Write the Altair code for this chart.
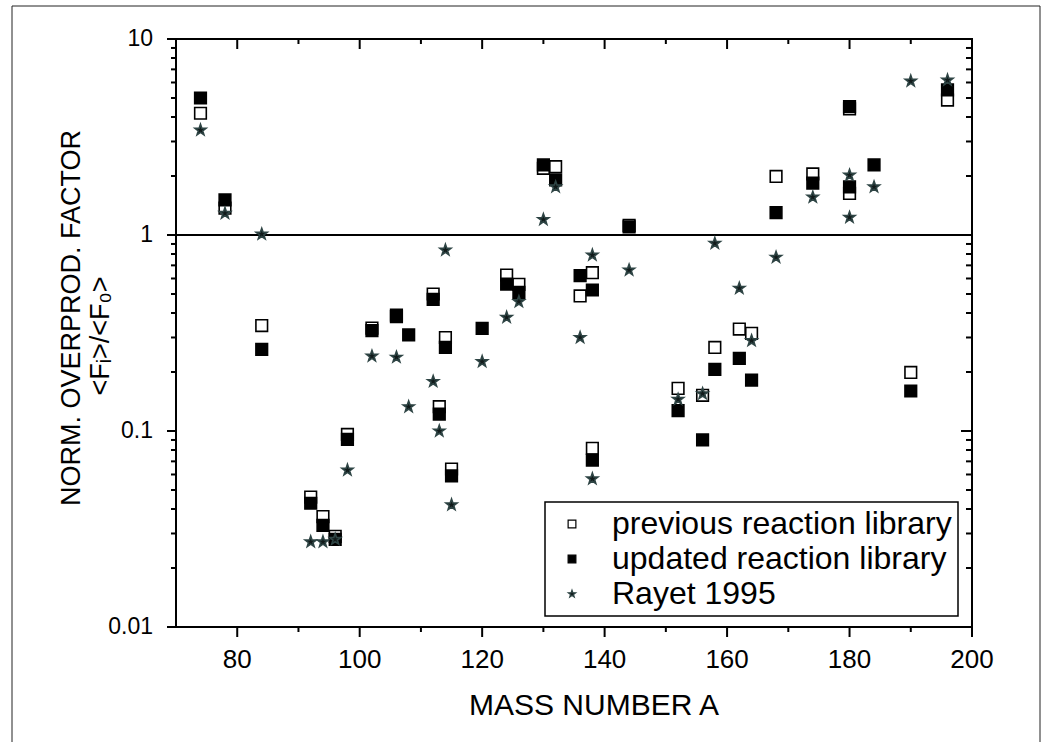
import altair as alt
import pandas as pd

# ---- data ----
series_names = ["previous reaction library", "updated reaction library", "Rayet 1995"]

prev_A = [74, 78, 84, 92, 94, 96, 98, 102, 106, 112, 113, 114, 115, 124, 126, 130, 132, 136, 138, 138,
          144, 152, 156, 158, 162, 164, 168, 174, 180, 180, 190, 196]
prev_F = [4.18, 1.37, 0.345, 0.046, 0.0366, 0.029, 0.096, 0.335, 0.39, 0.50, 0.133, 0.30, 0.064, 0.625,
          0.56, 2.19, 2.23, 0.489, 0.642, 0.0816, 1.12, 0.165, 0.152, 0.267, 0.331, 0.315, 1.99, 2.05,
          4.4, 1.63, 0.199, 4.88]

upd_A = [74, 78, 84, 92, 94, 96, 98, 102, 106, 108, 112, 113, 114, 115, 120, 124, 126, 130, 132, 136,
         138, 138, 144, 152, 156, 158, 162, 164, 168, 174, 180, 180, 184, 190, 196]
upd_F = [5.0, 1.51, 0.261, 0.0428, 0.033, 0.028, 0.0907, 0.325, 0.383, 0.309, 0.47, 0.122, 0.267,
         0.059, 0.334, 0.562, 0.51, 2.28, 1.91, 0.62, 0.524, 0.0711, 1.10, 0.127, 0.09, 0.206, 0.235,
         0.182, 1.30, 1.84, 4.52, 1.76, 2.28, 0.16, 5.5]

ray_A = [74, 78, 84, 92, 94, 96, 98, 102, 106, 108, 112, 113, 114, 115, 120, 124, 126, 130, 132, 136,
         138, 138, 144, 152, 156, 158, 162, 164, 168, 174, 180, 180, 184, 190, 196]
ray_F = [3.43, 1.29, 1.01, 0.0272, 0.0272, 0.028, 0.0632, 0.241, 0.238, 0.133, 0.179, 0.10, 0.838,
         0.042, 0.226, 0.38, 0.457, 1.20, 1.76, 0.30, 0.79, 0.057, 0.663, 0.145, 0.155, 0.907, 0.535,
         0.289, 0.77, 1.56, 2.02, 1.23, 1.76, 6.1, 6.17]

x_major = [80, 100, 120, 140, 160, 180, 200]
x_major_labels = ["80", "100", "120", "140", "160", "180", "200"]
x_minor = [90, 110, 130, 150, 170, 190]
y_major = [0.01, 0.1, 1, 10]
y_major_labels = ["0.01", "0.1", "1", "10"]
y_minor = [0.02, 0.03, 0.04, 0.05, 0.06, 0.07, 0.08, 0.09,
           0.2, 0.3, 0.4, 0.5, 0.6, 0.7, 0.8, 0.9,
           2, 3, 4, 5, 6, 7, 8, 9]
ref_level = [1]

x_title = "MASS NUMBER A"
y_title_1 = "NORM. OVERPROD. FACTOR"
y_title_2 = "<Fᵢ>/<F₀>"

rows = []
for name, A, F in [(series_names[0], prev_A, prev_F),
                   (series_names[1], upd_A, upd_F),
                   (series_names[2], ray_A, ray_F)]:
    for a, f in zip(A, F):
        rows.append({"A": a, "F": f, "series": name})
df = pd.DataFrame(rows)
df["order"] = range(len(df))

W, H = 796, 588
FONT = "Liberation Sans, Arial, sans-serif"
STAR = ("M0,-1L0.235,-0.324L0.951,-0.309L0.38,0.124L0.588,0.809L0,0.4"
        "L-0.588,0.809L-0.38,0.124L-0.951,-0.309L-0.235,-0.324Z")

xscale = alt.Scale(domain=[70, 200], nice=False, zero=False)
yscale = alt.Scale(type="log", domain=[0.01, 10], nice=False)

points = alt.Chart(df).mark_point(size=135, opacity=1, strokeWidth=1.6).encode(
    x=alt.X("A:Q", scale=xscale, axis=None),
    y=alt.Y("F:Q", scale=yscale, axis=None),
    shape=alt.Shape("series:N", scale=alt.Scale(domain=series_names, range=["square", "square", STAR]),
                    legend=alt.Legend(title=None)),
    fill=alt.Fill("series:N", scale=alt.Scale(domain=series_names, range=["white", "black", "#111a1a"]),
                  legend=alt.Legend(title=None)),
    stroke=alt.Stroke("series:N", scale=alt.Scale(domain=series_names, range=["black", "black", "#2e4444"]),
                      legend=alt.Legend(title=None)),
    order=alt.Order("order:Q"),
)

# tick tables
xmaj_df = pd.DataFrame({"xv": x_major, "lab": x_major_labels})
xmin_df = pd.DataFrame({"xm": x_minor})
ymaj_df = pd.DataFrame({"yv": y_major, "lab": y_major_labels})
ymin_df = pd.DataFrame({"ym": y_minor})

def xticks(d, f, y0, y1):
    return alt.Chart(d).mark_rule(color="black", strokeWidth=2).encode(
        x=alt.X(f + ":Q", scale=xscale, axis=None), y=alt.value(y0), y2=alt.value(y1))

def yticks(d, f, x0, x1):
    return alt.Chart(d).mark_rule(color="black", strokeWidth=2).encode(
        y=alt.Y(f + ":Q", scale=yscale, axis=None), x=alt.value(x0), x2=alt.value(x1))

tick_layers = [
    xticks(xmaj_df, "xv", H, H + 10),
    xticks(xmin_df, "xm", H, H + 5),
    xticks(xmaj_df, "xv", 0, 10),
    xticks(xmin_df, "xm", 0, 5),
    yticks(ymaj_df, "yv", -9, 0),
    yticks(ymin_df, "ym", -5, 0),
    yticks(ymaj_df, "yv", W - 11, W),
    yticks(ymin_df, "ym", W - 6, W),
]

x_labels = alt.Chart(xmaj_df).mark_text(
    font=FONT, fontSize=26, color="black", baseline="alphabetic", align="center"
).encode(x=alt.X("xv:Q", scale=xscale, axis=None), y=alt.value(H + 41), text="lab:N")

y_labels = alt.Chart(ymaj_df).mark_text(
    font=FONT, fontSize=23, color="black", baseline="middle", align="right"
).encode(y=alt.Y("yv:Q", scale=yscale, axis=None), x=alt.value(-23), text="lab:N")

title_df = pd.DataFrame({"t": [x_title]})
x_title_mark = alt.Chart(title_df).mark_text(
    font=FONT, fontSize=30, color="black", baseline="alphabetic", align="center"
).encode(x=alt.value(418), y=alt.value(676), text="t:N")

yt1_df = pd.DataFrame({"t": [y_title_1]})
yt2_df = pd.DataFrame({"t": [y_title_2]})
y_title_mark1 = alt.Chart(yt1_df).mark_text(
    font=FONT, fontSize=27, color="black", baseline="middle", align="center", angle=270
).encode(x=alt.value(-104), y=alt.value(279), text="t:N")
y_title_mark2 = alt.Chart(yt2_df).mark_text(
    font=FONT, fontSize=27, color="black", baseline="middle", align="center", angle=270
).encode(x=alt.value(-75), y=alt.value(297), text="t:N")

ref_df = pd.DataFrame({"level": ref_level})
ref_rule = alt.Chart(ref_df).mark_rule(color="black", strokeWidth=2).encode(
    y=alt.Y("level:Q", scale=yscale, axis=None)
)

frame = alt.Chart(pd.DataFrame({"k": [0]})).mark_rect(
    fill="transparent", stroke="#222222", strokeWidth=1
).encode(
    x=alt.value(-164), x2=alt.value(864), y=alt.value(-33), y2=alt.value(760)
)

chart = alt.layer(
    frame, ref_rule, *tick_layers, x_labels, y_labels, x_title_mark, y_title_mark1, y_title_mark2, points
).properties(
    width=W, height=H,
    autosize=alt.AutoSizeParams(type="none"),
    padding={"left": 176, "top": 39, "right": 1052 - 176 - W, "bottom": 742 - 39 - H},
    background="white",
).configure_view(
    stroke="black", strokeWidth=2
).configure_legend(
    orient="none", legendX=369, legendY=463, strokeColor="black", strokeWidth=1.5,
    fillColor="white", padding=6, labelFontSize=32, labelFont=FONT, labelColor="black",
    symbolSize=60, symbolOffset=5, labelOffset=24, rowPadding=3, labelLimit=0,
    symbolStrokeWidth=1.2,
)

chart.save("out.html", embed_options={"renderer": "svg", "actions": False})
